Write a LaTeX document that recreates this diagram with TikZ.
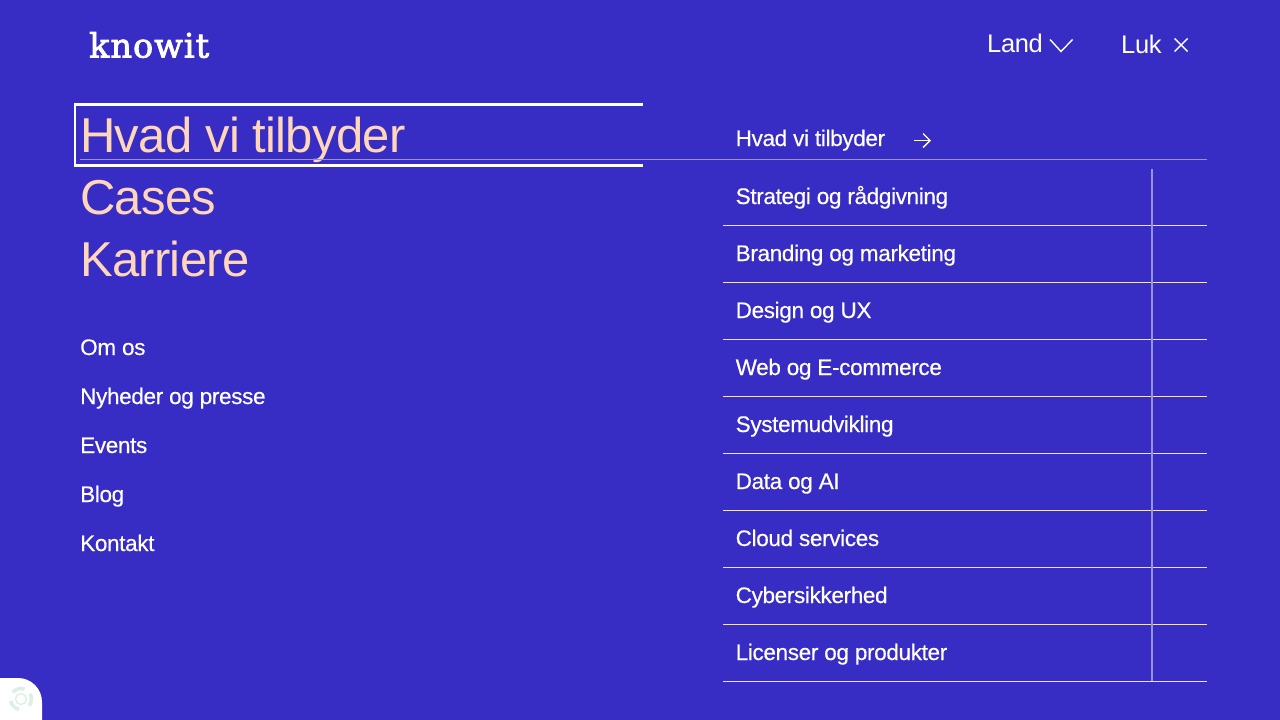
\documentclass[tikz,border=0pt]{standalone}
\usepackage{fontspec}
\setmainfont[LetterSpace=-1.5]{Liberation Sans}
\newfontfamily\medfont[LetterSpace=-1.5,FakeBold=0.4]{Liberation Sans}
\newfontfamily\logofont[LetterSpace=3,FakeBold=2.5]{DejaVu Serif}
\usetikzlibrary{arrows.meta,positioning,calc}
\definecolor{bgblue}{HTML}{372CC3}
\definecolor{peach}{HTML}{FFD6BA}
\definecolor{rulelav}{HTML}{EDE0F0}
\definecolor{rulepeach}{HTML}{FFE3C8}
\definecolor{ruledim}{HTML}{9C90DA}
\definecolor{iconmint}{HTML}{DDF0E4}

\begin{document}
\begin{tikzpicture}[
  x=1pt, y=-1pt,
  txt/.style={anchor=base west, inner sep=0pt, text=white},
  mainlink/.style={txt, text=peach, font=\fontsize{49}{49}\selectfont},
  sidelink/.style={txt, font=\medfont\fontsize{22.5}{24}\selectfont},
  toplink/.style={txt, font=\fontsize{25.5}{26}\selectfont},
  sep/.style={draw=rulelav, line width=1pt},
  seppeach/.style={draw=rulepeach, line width=1pt},
  dimsep/.style={draw=ruledim, line width=1pt},
  icon/.style={draw=white, line width=1.4pt}
]
  \useasboundingbox (0,0) rectangle (1280,720);
  \fill[bgblue] (0,0) rectangle (1280,720);

  % header
  \node[txt, font=\logofont\fontsize{33.5}{34}\selectfont] (logo) at (89,57.5) {knowit};
  \node[toplink] (land) at (987,52.5) {Land};
  \node[toplink] (luk) at (1121,53) {Luk};
  \draw[icon] (1050,39.5) -- (1061,51.5) -- (1072.5,39.5);
  \draw[icon] (1174.5,38.5) -- (1187.5,51.5) (1187.5,38.5) -- (1174.5,51.5);

  % focus frame
  \draw[white, line width=3pt] (643,104) -- (75,104);
  \draw[white, line width=3pt] (75,165) -- (643,165);
  \draw[white, line width=1.6pt] (75,102.5) -- (75,166.5);

  % left column
  \node[mainlink] (hvad) at (80,152.5) {Hvad vi tilbyder};
  \node[mainlink] (cases) at (80,214.5) {Cases};
  \node[mainlink] (karriere) at (80,276.5) {Karriere};
  \node[sidelink] (omos) at (80,355) {Om os};
  \node[sidelink] (nyheder) at (80,404) {Nyheder og presse};
  \node[sidelink] (events) at (80,453) {Events};
  \node[sidelink] (blog) at (80,502) {Blog};
  \node[sidelink] (kontakt) at (80,551) {Kontakt};

  % right column
  \node[sidelink] (head) at (735.5,146) {Hvad vi tilbyder};
  \draw[icon] (913.5,140.5) -- (930,140.5);
  \draw[icon] (923,133.5) -- (930,140.5) -- (923,147.5);
  \draw[dimsep] (80,159.5) -- (1207,159.5);
  \node[sidelink] (strategi) at (735.5,204) {Strategi og rådgivning};
  \node[sidelink] (branding) at (735.5,261) {Branding og marketing};
  \node[sidelink] (design) at (735.5,318) {Design og UX};
  \node[sidelink] (web) at (735.5,375) {Web og E-commerce};
  \node[sidelink] (system) at (735.5,432) {Systemudvikling};
  \node[sidelink] (data) at (735.5,489) {Data og AI};
  \node[sidelink] (cloud) at (735.5,546) {Cloud services};
  \node[sidelink] (cyber) at (735.5,603) {Cybersikkerhed};
  \node[sidelink] (licenser) at (735.5,660) {Licenser og produkter};

  \draw[sep] (723,225.5) -- (1207,225.5);
  \draw[seppeach] (723,282.5) -- (1207,282.5);
  \draw[sep] (723,339.5) -- (1207,339.5);
  \draw[seppeach] (723,396.5) -- (1207,396.5);
  \draw[sep] (723,453.5) -- (1207,453.5);
  \draw[seppeach] (723,510.5) -- (1207,510.5);
  \draw[sep] (723,567.5) -- (1207,567.5);
  \draw[seppeach] (723,624.5) -- (1207,624.5);
  \draw[sep] (723,681.5) -- (1207,681.5);
  \draw[dimsep, line width=1.8pt] (1152,169) -- (1152,681);

  % cookie badge
  \fill[white] (0,720) -- (0,678) -- (18,678) arc[start angle=90, end angle=0, x radius=24, y radius=-24] -- (42,720) -- cycle;
  \draw[iconmint, line width=3.6pt] (21,699) ++(100:10.5) arc[start angle=100, end angle=170, radius=10.5];
  \draw[iconmint, line width=3.6pt] (21,699) ++(-30:10.5) arc[start angle=-30, end angle=40, radius=10.5];
  \draw[iconmint, line width=3.6pt] (21,699) ++(220:10.5) arc[start angle=220, end angle=290, radius=10.5];
  \draw[iconmint, line width=1.4pt] (21,699) circle (5.5pt);
\end{tikzpicture}
\end{document}
